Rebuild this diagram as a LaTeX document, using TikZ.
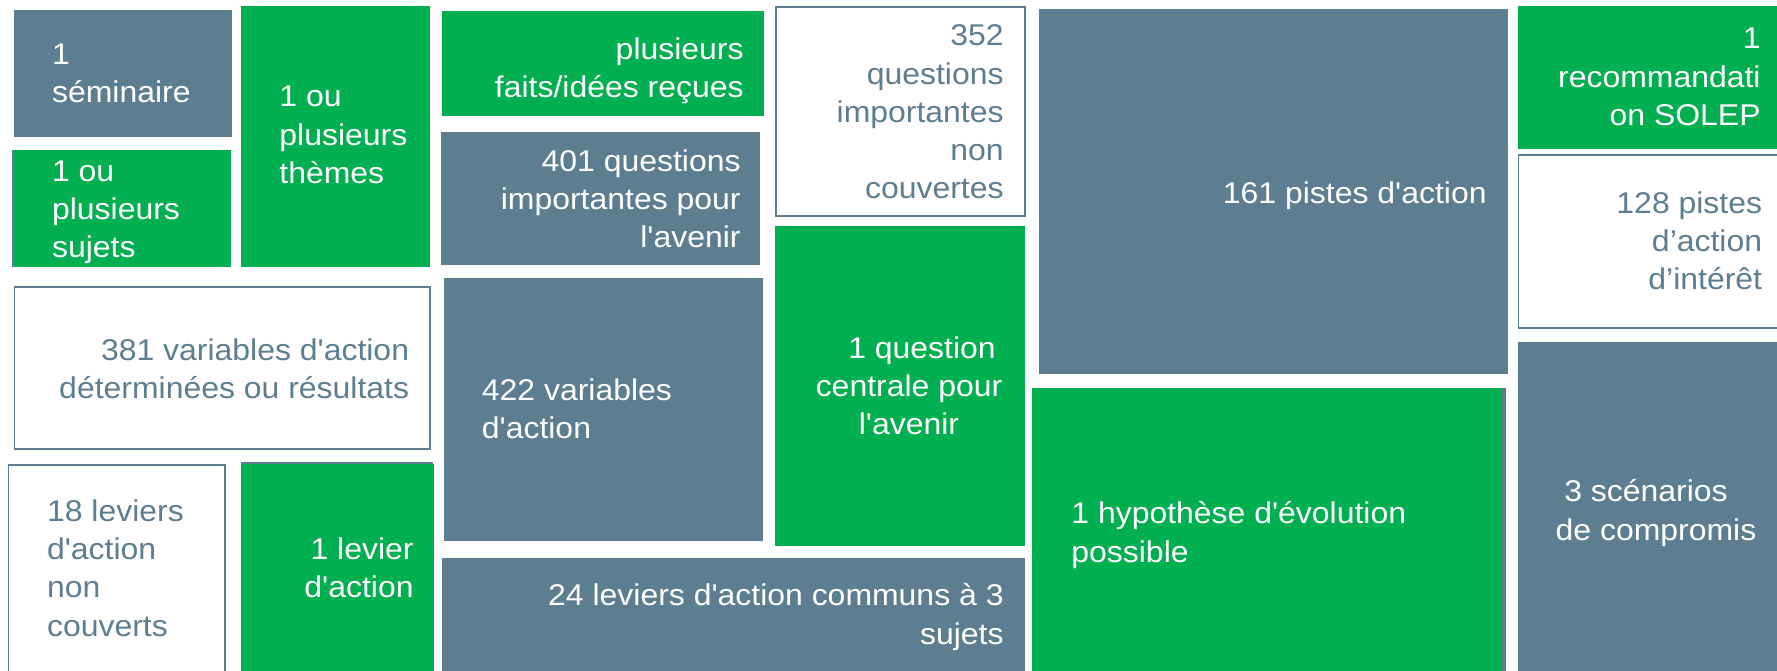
\documentclass[tikz,border=0pt]{standalone}
\usepackage{fontspec}
\setmainfont{Liberation Sans}[Ligatures=TeXOff, FakeStretch=1.065]
\definecolor{tilegray}{RGB}{93,126,144}
\definecolor{tilegreen}{RGB}{0,176,80}
\tikzset{
  graytile/.style={fill=tilegray},
  greentile/.style={fill=tilegreen},
  whitetile/.style={draw=tilegray, line width=0.75pt, fill=white},
  ontile/.style={text=white, inner sep=0pt, font=\fontsize{15}{19.1}\selectfont},
  offtile/.style={text=tilegray, inner sep=0pt, font=\fontsize{15}{19.1}\selectfont}
}
\begin{document}
\begin{tikzpicture}[x=0.5pt, y=-0.5pt]
		\useasboundingbox (0,0) rectangle (1777,670);
		
		% first column
		\fill[graytile] (14,10) rectangle (232,137);
		\node[ontile, align=left, anchor=west] (seminaire) at (51.7,73) {1\\séminaire};
		\fill[graytile] (11.5,150) rectangle (231,267);
		\fill[greentile] (13.5,150) rectangle (231,267);
		\node[ontile, align=left, anchor=west] (sujets) at (51.7,212) {1 ou\\plusieurs\\sujets};
		\filldraw[whitetile] (14.5,287) rectangle (430,449);
		\node[offtile, align=right, anchor=east] (var381) at (409.5,369) {381 variables d'action\\déterminées ou résultats};
		\filldraw[whitetile] (8.4,465) rectangle (225,675);
		\node[offtile, align=left, anchor=west] (lev18) at (46.7,568) {18 leviers\\d'action\\non\\couverts};
		
		% second column
		\fill[greentile] (241,6) rectangle (430,267);
		\node[ontile, align=left, anchor=west] (themes) at (279,135) {1 ou\\plusieurs\\thèmes};
		\fill[graytile] (241,462) rectangle (433,464);
		\fill[greentile] (241,464) rectangle (434,675);
		\node[ontile, align=right, anchor=east] (lev1) at (414,568) {1 levier\\d'action};
		
		% third column
		\fill[greentile] (442,11) rectangle (764,116);
		\node[ontile, align=right, anchor=east] (faits) at (744,71) {plusieurs\\faits/idées reçues};
		\fill[graytile] (441,132) rectangle (760,265);
		\node[ontile, align=right, anchor=east] (quest401) at (741,199) {401 questions\\importantes pour\\l'avenir};
		\fill[graytile] (444,278) rectangle (763,541);
		\node[ontile, align=left, anchor=west] (var422) at (481.5,409) {422 variables\\d'action};
		\fill[graytile] (442,558) rectangle (1025,675);
		\node[ontile, align=right, anchor=east] (lev24) at (1004,617) {24 leviers d'action communs à 3\\sujets};
		
		% fourth column
		\filldraw[whitetile] (776,7) rectangle (1025,216);
		\node[offtile, align=right, anchor=east] (quest352) at (1004,112) {352\\questions\\importantes\\non\\couvertes};
		\fill[greentile] (775,226) rectangle (1025,546);
		\node[ontile, align=center] (central) at (909,386) {\hspace*{13pt}1 question\\centrale pour\\l'avenir};
		
		% fifth column
		\fill[graytile] (1039,9) rectangle (1508,374);
		\node[ontile, anchor=east] (pistes161) at (1487,196) {161 pistes d'action};
		\fill[graytile] (1032,388) rectangle (1506,675);
		\fill[greentile] (1032,388) rectangle (1502,675);
		\node[ontile, align=left, anchor=west] (hypo) at (1071,535) {1 hypothèse d'évolution\\possible};
		
		% last column
		\fill[greentile] (1517.6,6) rectangle (1790,149);
		\node[ontile, align=right, anchor=east] (recom) at (1761,77) {1\\recommandati\\on SOLEP};
		\filldraw[whitetile] (1518.7,155) rectangle (1790,328);
		\node[offtile, align=right, anchor=east] (pistes128) at (1762.5,241) {128 pistes\\d’action\\d’intérêt};
		\fill[graytile] (1518,342) rectangle (1790,675);
		\node[ontile, align=center] (scenarios) at (1656,513) {3 scénarios\hspace*{10pt}\\de compromis};
\end{tikzpicture}
\end{document}
